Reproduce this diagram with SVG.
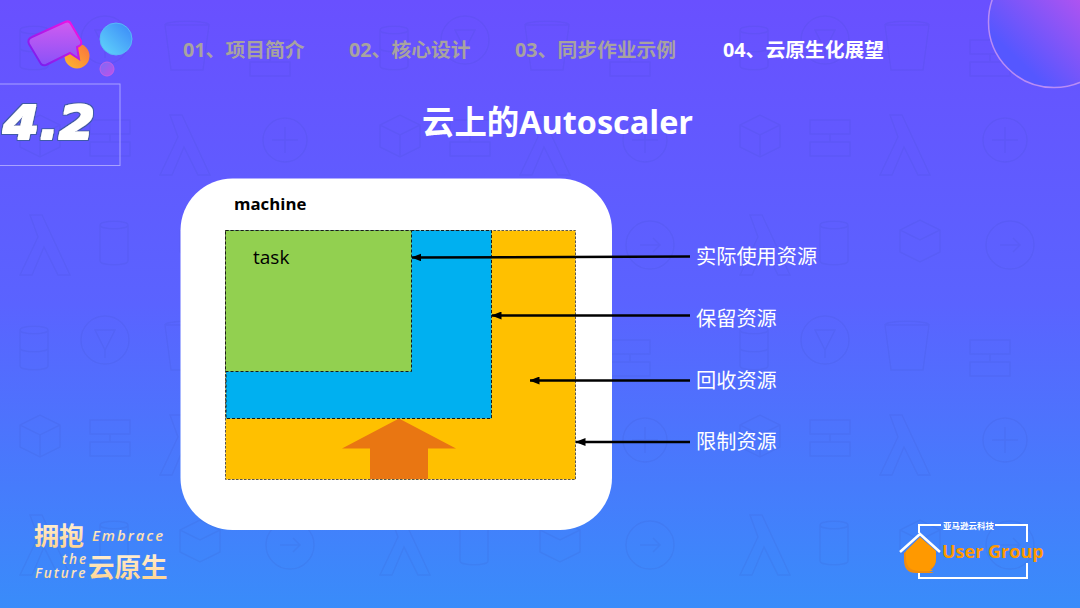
<svg xmlns="http://www.w3.org/2000/svg" width="1080" height="608" viewBox="0 0 1080 608">
<style>
.cjk{font-family:"Open Sans","Noto Sans CJK SC",sans-serif}
.nav{font-size:19.800px;font-weight:700;fill:#a8a39f}
.lab{font-size:20.200px;fill:#fff}
.ic{fill:none;stroke:#2f3fb0;stroke-width:1.500}
.cn{stroke:#000;stroke-width:2.500;fill:none;marker-end:url(#ah)}
.gold{fill:url(#gold);font-family:"Noto Sans CJK SC",sans-serif}
.en{fill:url(#gold);font-family:"Open Sans",sans-serif;font-style:italic;font-weight:600;letter-spacing:2px}
</style>
<defs>
<linearGradient id="bg" x1="0" y1="0" x2="0" y2="1"><stop offset="0" stop-color="#6950ff"/><stop offset="0.5" stop-color="#5a63ff"/><stop offset="1" stop-color="#398cfa"/></linearGradient>
<linearGradient id="big" gradientUnits="userSpaceOnUse" x1="1085" y1="-5" x2="1020" y2="62"><stop offset="0" stop-color="#b553f0"/><stop offset="1" stop-color="#5557ff"/></linearGradient>
<linearGradient id="blu" x1="0" y1="1" x2="1" y2="0"><stop offset="0" stop-color="#62d8fb"/><stop offset="1" stop-color="#3a86f8"/></linearGradient>
<linearGradient id="bub" x1="0" y1="0" x2="0" y2="1"><stop offset="0" stop-color="#d05cf0"/><stop offset="1" stop-color="#8a52f8"/></linearGradient>
<linearGradient id="bubs" x1="1" y1="0" x2="0" y2="1"><stop offset="0" stop-color="#ff10e0"/><stop offset="1" stop-color="#6a20f0"/></linearGradient>
<linearGradient id="ora" x1="0" y1="1" x2="1" y2="0"><stop offset="0" stop-color="#fdb92e"/><stop offset="1" stop-color="#f9703f"/></linearGradient>
<linearGradient id="pur" x1="0" y1="0" x2="1" y2="1"><stop offset="0" stop-color="#7a6cf8"/><stop offset="1" stop-color="#c050e8"/></linearGradient>
<linearGradient id="gold" x1="0" y1="0" x2="0" y2="1"><stop offset="0" stop-color="#fff6e4"/><stop offset="1" stop-color="#ffcf86"/></linearGradient>
<filter id="heavy" x="-10%" y="-20%" width="120%" height="140%">
<feMorphology in="SourceAlpha" operator="dilate" radius="1.200" result="w"/>
<feMorphology in="SourceAlpha" operator="dilate" radius="1.900" result="d"/>
<feFlood flood-color="#3f5aa8"/><feComposite in2="d" operator="in" result="dk"/>
<feFlood flood-color="#ffffff"/><feComposite in2="w" operator="in" result="wh"/>
<feMerge><feMergeNode in="dk"/><feMergeNode in="wh"/></feMerge>
</filter>
<marker id="ah" viewBox="0 0 10 8" refX="9.500" refY="4" markerWidth="10" markerHeight="8" markerUnits="userSpaceOnUse" orient="auto"><path d="M10 4L0 0V8Z" fill="#000"/></marker>
<pattern id="pt" width="360" height="300" patternUnits="userSpaceOnUse">
<g class="ic" opacity=".1">
<path d="M20 30v36c0 5 28 5 28 0V30M20 30c0-5 28-5 28 0s-28 5-28 0M20 48c0 5 28 5 28 0"/>
<circle cx="105" cy="40" r="24"/><path d="M95 30h20l-10 20zM105 50v8"/>
<path d="M165 25h44l-6 45h-32zM165 25c0-5 44-5 44 0"/>
<path d="M250 40h40v14h-40zM250 62h40v14h-40zM270 54v8"/>
<path d="M20 125l20-10 20 10v22l-20 10-20-10zM20 125l20 10 20-10M40 135v22"/>
<path d="M90 120h40v14H90zM90 142h40v14H90zM110 134v8"/>
<path d="M170 115l12 0 28 60h-12l-14-28-12 28h-12l18-38z"/>
<circle cx="285" cy="140" r="22"/><path d="M272 140h26M285 127v26"/>
<path d="M30 215l12 0 28 60H58l-14-28-12 28H20l18-38z"/>
<path d="M100 225v36c0 5 28 5 28 0v-36M100 225c0-5 28-5 28 0s-28 5-28 0"/>
<path d="M180 230l20-10 20 10v22l-20 10-20-10zM180 230l20 10 20-10"/>
<circle cx="290" cy="245" r="24"/><path d="M280 245h20M293 238l7 7-7 7"/>
</g>
</pattern>
</defs>
<rect width="1080" height="608" fill="url(#bg)"/>
<rect width="1080" height="608" fill="url(#pt)"/>
<circle cx="1054" cy="22" r="65.500" fill="url(#big)" stroke="#b98cf5" stroke-width="1.500"/>

<g id="logo">
<circle cx="77" cy="56" r="12.500" fill="url(#ora)"/>
<path d="M32 37L65 22Q69 20 71 24L81 41Q82 45 79 46L77 47L79 59L70 53L46 65Q43 66 41 64L29 44Q27 39 32 37Z" fill="url(#bub)" stroke="url(#bubs)" stroke-width="2"/>
<circle cx="116" cy="39" r="16" fill="url(#blu)" stroke="#58b8f8"/>
<circle cx="107" cy="69" r="7" fill="url(#pur)" stroke="#c060e8"/>
</g>

<g id="nav" class="cjk">
<text class="nav" x="183" y="57">01、项目简介</text>
<text class="nav" x="349" y="57">02、核心设计</text>
<text class="nav" x="515" y="57">03、同步作业示例</text>
<text class="nav" x="723" y="57" style="fill:#fff">04、云原生化展望</text>
</g>

<g id="section">
<rect x="-2" y="84" width="122" height="81.500" fill="none" stroke="#a9a2ff" stroke-width="1"/>
<text x="3" y="139" font-family="'DejaVu Sans',sans-serif" font-size="46" font-weight="700" font-style="italic" fill="#fff" filter="url(#heavy)" textLength="92" lengthAdjust="spacingAndGlyphs">4.2</text>
</g>

<text id="title" class="cjk" x="422" y="134" font-size="32.400" font-weight="700" fill="#fff">云上的Autoscaler</text>

<g id="machine">
<rect x="180.500" y="178.500" width="431.500" height="351.500" rx="52" fill="#fff"/>
<text x="234" y="210" class="cjk" font-size="16.800" font-weight="700" fill="#000">machine</text>
</g>
<g id="limit"><rect x="225.500" y="230.500" width="350" height="249" fill="#ffc000" stroke="#555" stroke-width="1" stroke-dasharray="2.500 1.500"/></g>
<g id="reserved"><rect x="226" y="230.500" width="265.500" height="188" fill="#00b0f0" stroke="#1a1a1a" stroke-width="1" stroke-dasharray="3 2"/></g>
<g id="task">
<rect x="225.500" y="230.500" width="186" height="141" fill="#92d050" stroke="#1a1a1a" stroke-width="1" stroke-dasharray="3 2"/>
<text x="253" y="264" class="cjk" font-size="19" fill="#000">task</text>
</g>
<g id="arrow-up"><path d="M342 448.500L399 418.500L456 448.500H428V479H370V448.500Z" fill="#e97612"/></g>

<g id="connectors">
<path class="cn" d="M690 256.500L412 257.500"/>
<path class="cn" d="M690 315.500H492"/>
<path class="cn" d="M690 380.500H530"/>
<path class="cn" d="M690 442H576"/>
</g>
<g id="labels" class="cjk">
<text class="lab" x="696" y="263.500">实际使用资源</text>
<text class="lab" x="696" y="325.500">保留资源</text>
<text class="lab" x="696" y="387.500">回收资源</text>
<text class="lab" x="696" y="448.500">限制资源</text>
</g>

<g id="slogan">
<text class="gold" x="34" y="545" font-size="25" font-weight="700">拥抱</text>
<text class="en" x="92" y="541" font-size="14.800">Embrace</text>
<text class="en" x="62" y="564" font-size="13.500">the</text>
<text class="en" x="35" y="578" font-size="13.500">Future</text>
<text class="gold" x="88" y="577" font-size="26.500" font-weight="700">云原生</text>
</g>

<g id="usergroup">
<path d="M919 533V525H941M995 525H1027V542M1027 563V578H919V571" fill="none" stroke="#fff" stroke-width="2"/>
<text x="943" y="529" font-family="'Noto Sans CJK SC',sans-serif" font-size="8.500" font-weight="700" fill="#fff">亚马逊云科技</text>
<path d="M904 553L920 538L936 553V559Q936 567 929 571L934 573H916Q904 573 904 560Z" fill="#f08c10"/>
<path d="M906 551L920 537L936 551V558Q936 566 930 569L933 571H918Q906 570 906 558Z" fill="#ff9900"/>
<path d="M900 552L920 534L940 552" fill="none" stroke="#fff" stroke-width="2.500"/>
<text x="942" y="558" font-family="'Open Sans',sans-serif" font-size="18" font-weight="700" fill="#ff9900">User Group</text>
</g>
</svg>
